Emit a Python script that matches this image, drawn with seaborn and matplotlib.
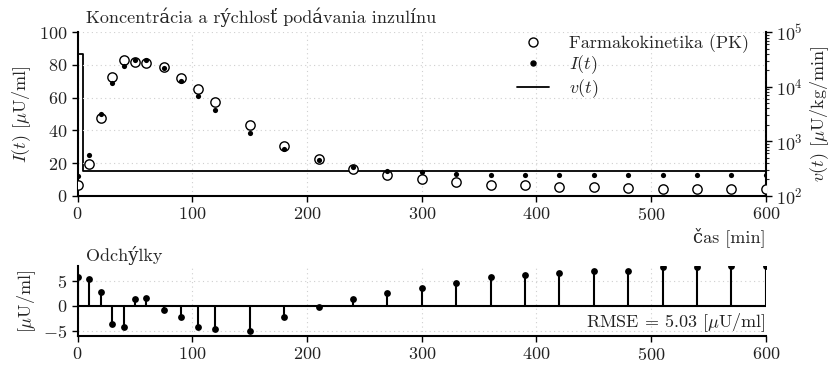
import numpy as np
import pandas as pd
import matplotlib
matplotlib.use("Agg")
import matplotlib.pyplot as plt
from matplotlib.lines import Line2D
import seaborn as sns

sns.set_theme(style="ticks")
plt.rcParams["font.family"] = ["cmr10", "DejaVu Serif"]
plt.rcParams["mathtext.fontset"] = "cm"
plt.rcParams["axes.formatter.use_mathtext"] = True
plt.rcParams["font.size"] = 13
FS = 13

# casy odberov [min]
t = [0, 10, 20, 30, 40, 50, 60, 75, 90, 105, 120, 150, 180, 210, 240, 270,
     300, 330, 360, 390, 420, 450, 480, 510, 540, 570, 600]
# farmakokineticky model (PK)
pk = [6.5, 19.2, 47.4, 72.6, 83.2, 81.6, 81.4, 78.9, 72.2, 65.3, 57.2, 43.3,
      30.6, 22.3, 16.5, 12.7, 10.2, 8.4, 6.7, 6.3, 5.5, 5.3, 5.0, 4.4, 4.3, 4.3, 4.2]
# namerana koncentracia I(t)
ins = [12.2, 24.7, 50.2, 69.0, 79.4, 83.0, 83.0, 78.0, 70.2, 61.0, 52.6, 38.4,
       28.6, 21.7, 17.7, 15.1, 14.3, 13.5, 12.7, 12.7, 12.5, 12.5, 12.5, 12.4,
       12.4, 12.4, 12.4]
# odchylky
resid = [5.85, 5.5, 2.8, -3.6, -4.2, 1.4, 1.7, -0.9, -2.2, -4.3, -4.6, -5.0,
         -2.3, -0.3, 1.3, 2.6, 3.6, 4.6, 5.9, 6.25, 6.65, 7.0, 7.1, 7.8, 7.9,
         8.0, 8.0]
# rychlost podavania v(t)
v_t = [0, 5, 600]
v_val = [40000, 280, 280]

df = pd.DataFrame({"t": t, "pk": pk, "ins": ins, "resid": resid})
dv = pd.DataFrame({"t": v_t, "v": v_val})

fig = plt.figure(figsize=(8.37, 3.7), dpi=100)
ax = fig.add_axes([0.0928, 0.471, 0.8222, 0.4419])
ax2 = ax.twinx()
axr = fig.add_axes([0.0928, 0.0932, 0.8222, 0.1868])

grid_kw = dict(color="#cfcfcf", linestyle=(0, (1, 3)), linewidth=0.8)

# horny graf
sns.scatterplot(data=df, x="t", y="pk", ax=ax, marker="o", s=45,
                color="white", edgecolor="black", linewidth=1.0, zorder=3)
sns.scatterplot(data=df, x="t", y="ins", ax=ax, marker="o", s=14,
                color="black", edgecolor="black", linewidth=0, zorder=4)
sns.lineplot(data=dv, x="t", y="v", ax=ax2, color="black", linewidth=1.3,
             drawstyle="steps-post")
ax2.set_yscale("log")
ax2.set_ylim(1e2, 1e5)
ax.set_xlim(0, 600)
ax.set_ylim(0, 100)
ax.set_yticks([0, 20, 40, 60, 80, 100])
ax.set_xticks([0, 100, 200, 300, 400, 500, 600])
ax.grid(True, **grid_kw)
ax.set_ylabel("$I(t)$ [$\\mu$U/ml]", fontsize=FS)
ax2.set_ylabel("$v(t)$ [$\\mu$U/kg/min]", fontsize=FS)
ax.set_xlabel("čas [min]", loc="right", fontsize=FS, labelpad=3)
ax.set_title("Koncentrácia a rýchlosť podávania inzulínu", loc="left",
             x=0.012, pad=7, fontsize=FS)

for s in ["top", "right"]:
    ax.spines[s].set_visible(False)
for s in ["top", "left", "bottom"]:
    ax2.spines[s].set_visible(False)
for a in (ax, ax2, axr):
    for s in a.spines.values():
        s.set_linewidth(1.5)
        s.set_color("black")
    a.tick_params(direction="out", length=4, width=1, color="black",
                  labelsize=FS, labelcolor="#222222")
ax2.tick_params(which="minor", direction="out", length=2.5, width=0.8)

handles = [
    Line2D([], [], marker="o", linestyle="none", markersize=6.5,
           markerfacecolor="white", markeredgecolor="black"),
    Line2D([], [], marker="o", linestyle="none", markersize=3.6,
           markerfacecolor="black", markeredgecolor="black"),
    Line2D([], [], color="black", linewidth=1.3),
]
ax.legend(handles, ["Farmakokinetika (PK)", "$I(t)$", "$v(t)$"],
          loc="upper right", bbox_to_anchor=(0.978, 1.0), frameon=False,
          fontsize=FS, borderaxespad=0.0, borderpad=0.1, handlelength=1.8,
          handletextpad=1.1, labelspacing=0.05)
ax.set_zorder(ax2.get_zorder() + 1)
ax.patch.set_visible(False)

# dolny graf - odchylky
axr.vlines(df["t"], 0, df["resid"], color="black", linewidth=1.5, zorder=2)
axr.axhline(0, color="black", linewidth=1.5, zorder=2)
sns.scatterplot(data=df, x="t", y="resid", ax=axr, marker="o", s=24,
                color="black", edgecolor="black", linewidth=0, zorder=3)
axr.set_xlim(0, 600)
axr.set_ylim(-6, 8)
axr.set_yticks([-5, 0, 5])
axr.set_xticks([0, 100, 200, 300, 400, 500, 600])
axr.grid(True, **grid_kw)
axr.set_xlabel("")
axr.set_ylabel("[$\\mu$U/ml]", fontsize=FS)
axr.set_title("Odchýlky", loc="left", x=0.012, pad=4, fontsize=FS)
for s in ["top", "right"]:
    axr.spines[s].set_visible(False)
axr.text(1.0, 0.02, "RMSE = 5.03 [$\\mu$U/ml]", transform=axr.transAxes,
         ha="right", va="bottom", fontsize=FS, color="#222222")

fig.align_ylabels([ax, axr])
fig.savefig("out.png", dpi=100)
